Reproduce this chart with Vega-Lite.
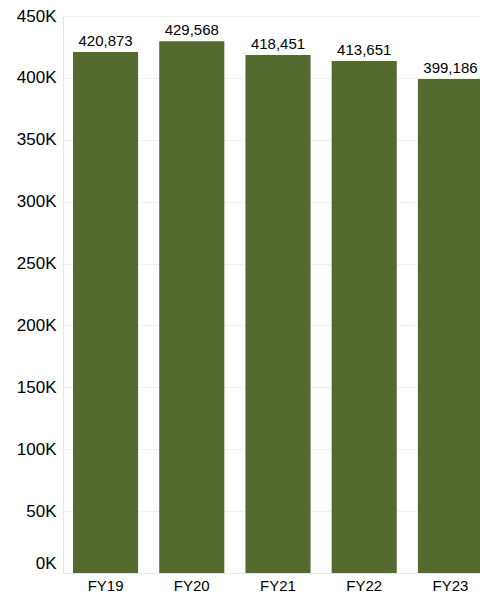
{
  "$schema": "https://vega.github.io/schema/vega-lite/v6.json",
  "autosize": {"type": "none"},
  "padding": {"left": 63, "top": 16, "right": 0, "bottom": 19},
  "width": 430,
  "height": 557,
  "background": "white",
  "data": {"values": [
    {"year": "FY19", "value": 420873},
    {"year": "FY20", "value": 429568},
    {"year": "FY21", "value": 418451},
    {"year": "FY22", "value": 413651},
    {"year": "FY23", "value": 399186}
  ]},
  "config": {
    "view": {"stroke": null},
    "font": "Liberation Sans"
  },
  "encoding": {
    "x": {
      "field": "year", "type": "nominal", "title": null,
      "scale": {"paddingInner": 0.245, "paddingOuter": 0.116},
      "axis": {"labelAngle": 0, "labelFontSize": 15, "labelColor": "#000", "labelPadding": 5, "ticks": false, "domainColor": "#e6e6e6", "grid": false}
    },
    "y": {
      "field": "value", "type": "quantitative", "title": null,
      "scale": {"domain": [0, 450000], "nice": false},
      "axis": {"values": [0, 50000, 100000, 150000, 200000, 250000, 300000, 350000, 400000, 450000],
        "labelExpr": "datum.value / 1000 + 'K'", "labelFontSize": 17, "labelColor": "#000",
        "labelOffset": {"condition": {"test": "datum.value == 0", "value": -10}, "value": 0},
        "ticks": false, "labelPadding": 7, "domainColor": "#e6e6e6", "gridColor": "#f0f0f0"}
    }
  },
  "layer": [
    {"mark": {"type": "bar", "color": "#546a2f"}},
    {"mark": {"type": "text", "baseline": "alphabetic", "dy": -6, "fontSize": 15, "color": "#000"},
     "encoding": {"text": {"field": "value", "type": "quantitative", "format": ",d"}}}
  ]
}
